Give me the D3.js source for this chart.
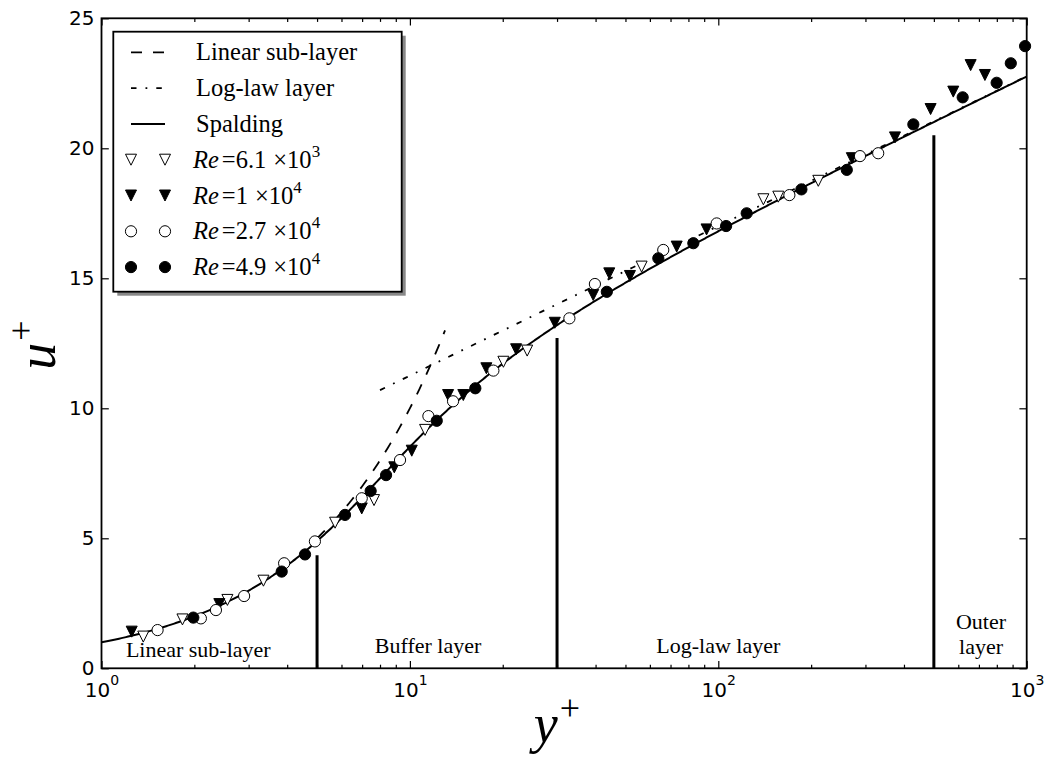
<!DOCTYPE html>
<html><head><meta charset="utf-8">
<script src="https://cdn.jsdelivr.net/npm/d3@7"></script>
<style>body{margin:0;background:#fff}</style>
</head><body><svg id="c" width="1048" height="761"></svg>
<script>
// ---------- data ----------
const xTicks = [1, 10, 100, 1000];
const xTickExp = ["0", "1", "2", "3"];
const yTicks = [0, 5, 10, 15, 20, 25];

const re61 = [[1.366,1.22],[1.83,1.88],[2.56,2.63],[3.35,3.37],[5.72,5.6],[7.65,6.47],[11.2,9.17],
  [20.1,11.79],[24.0,12.22],[56.4,15.45],[140,18.04],[156.5,18.14],[211,18.75]];
const re1 = [[1.253,1.41],[2.41,2.47],[6.98,6.15],[8.9,7.73],[10.14,8.37],[13.3,10.51],[14.9,10.51],
  [17.7,11.54],[22.1,12.27],[29.5,13.29],[39.3,14.36],[44.3,15.19],[51.7,15.09],[73.3,16.22],[91.6,16.88],
  [271,19.62],[374,20.42],[488,21.51],[578,22.18],[658,23.2],[732,22.82]];
const re27 = [[1.52,1.47],[2.10,1.92],[2.35,2.24],[2.90,2.78],[3.91,4.04],[4.92,4.88],[6.98,6.54],
  [9.29,8.01],[11.48,9.7],[13.8,10.27],[18.65,11.45],[32.9,13.46],[39.8,14.78],[66.3,16.09],[98.8,17.11],
  [170,18.2],[288,19.7],[330,19.81]];
const re49 = [[1.985,1.95],[3.84,3.72],[4.57,4.38],[6.16,5.9],[7.46,6.82],[8.37,7.43],[12.22,9.52],
  [16.3,10.77],[43.5,14.48],[63.9,15.77],[83,16.35],[106,17.01],[123.6,17.5],[186,18.42],[261,19.17],
  [429,20.92],[620,21.96],[799,22.52],[888,23.27],[988,23.93]];

const seriesLabels = [["6.1", "3"], ["1", "4"], ["2.7", "4"], ["4.9", "4"]];
const lineLabels = ["Linear sub-layer", "Log-law layer", "Spalding"];

// theory parameters
const kappa = 0.4, Bconst = 5.5;
const linearRange = [5, 13];
const logRange = [8, 1000];

// region boundaries (y+) and their heights (u+)
const boundaryX = [5, 30, 500];
const boundaryTop = [4.35, 12.7, 20.5];
const regionNames = [["Linear sub-layer"], ["Buffer layer"], ["Log-law layer"], ["Outer", "layer"]];
const regionAnchorX = [2.06, 11.45, 100, 711];

// ---------- layout ----------
const L = 101.5, R = 1026.7, T = 18.3, Bm = 668.3;
const svg = d3.select("#c");
const x = d3.scaleLog().domain([1, 1000]).range([L, R]);
const y = d3.scaleLinear().domain([0, 25]).range([Bm, T]);

const serif = "'Liberation Serif','Times New Roman',serif";
const sans = "'DejaVu Sans',sans-serif";

svg.append("defs").append("clipPath").attr("id", "pc")
  .append("rect").attr("x", L).attr("y", T).attr("width", R - L).attr("height", Bm - T);

const plot = svg.append("g").attr("clip-path", "url(#pc)");
const line = d3.line().x(d => x(d[0])).y(d => y(d[1]));

// Spalding curve (implicit law evaluated along u+)
const uSamp = d3.range(0, 24, 0.02);
const spalding = uSamp.map(u => {
  const k = kappa * u;
  const yp = u + Math.exp(-kappa * Bconst) * (Math.exp(k) - 1 - k - k * k / 2 - k * k * k / 6);
  return [yp, u];
}).filter(d => d[0] >= 0.9 && d[0] <= 1100);

const linPts = d3.range(0, 41).map(i => {
  const yp = linearRange[0] * Math.pow(linearRange[1] / linearRange[0], i / 40);
  return [yp, yp];
});
const logPts = d3.range(0, 101).map(i => {
  const yp = logRange[0] * Math.pow(logRange[1] / logRange[0], i / 100);
  return [yp, Math.log(yp) / kappa + Bconst];
});

plot.append("path").datum(linPts).attr("d", line).attr("fill", "none")
  .attr("stroke", "#000").attr("stroke-width", 1.8).attr("stroke-dasharray", "11,11");
plot.append("path").datum(logPts).attr("d", line).attr("fill", "none")
  .attr("stroke", "#000").attr("stroke-width", 1.8).attr("stroke-dasharray", "5.5,9,1.8,9");
plot.append("path").datum(spalding).attr("d", line).attr("fill", "none")
  .attr("stroke", "#000").attr("stroke-width", 2);

// region boundaries
plot.selectAll("line.bd").data(boundaryX).enter().append("line")
  .attr("x1", d => x(d)).attr("x2", d => x(d))
  .attr("y1", y(0)).attr("y2", (d, i) => y(boundaryTop[i]))
  .attr("stroke", "#000").attr("stroke-width", 3);

// markers
const triPath = "M0,5.5L-5.5,-5.5L5.5,-5.5Z";
function drawTri(g, data, fill) {
  g.selectAll(null).data(data).enter().append("path")
    .attr("d", triPath)
    .attr("transform", d => `translate(${x(d[0])},${y(d[1])})`)
    .attr("fill", fill).attr("stroke", "#000").attr("stroke-width", 1);
}
function drawCirc(g, data, fill) {
  g.selectAll(null).data(data).enter().append("circle")
    .attr("cx", d => x(d[0])).attr("cy", d => y(d[1])).attr("r", 5.6)
    .attr("fill", fill).attr("stroke", "#000").attr("stroke-width", 1);
}
const mk = svg.append("g");
drawTri(mk, re61, "#fff");
drawTri(mk, re1, "#000");
drawCirc(mk, re27, "#fff");
drawCirc(mk, re49, "#000");

// region labels
regionNames.forEach((lines, i) => {
  const t = svg.append("text").attr("text-anchor", "middle")
    .attr("font-family", serif).attr("font-size", 22).attr("fill", "#000");
  const base = lines.length === 1 ? (i === 0 ? 657 : 653) : 629;
  lines.forEach((s, j) => {
    t.append("tspan").attr("x", x(regionAnchorX[i])).attr("y", base + j * 25).text(s);
  });
});

// ---------- axes ----------
const minorX = [];
[1, 10, 100].forEach(d => { for (let k = 2; k <= 9; k++) minorX.push(d * k); });

function styleAxis(g) {
  g.select(".domain").remove();
  g.selectAll(".tick line").attr("stroke", "#000").attr("stroke-width", 1.2);
}
svg.append("g").attr("transform", `translate(0,${Bm})`)
  .call(d3.axisBottom(x).tickValues(minorX).tickSize(-3.6).tickFormat("")).call(styleAxis);
svg.append("g").attr("transform", `translate(0,${T})`)
  .call(d3.axisTop(x).tickValues(minorX).tickSize(-3.6).tickFormat("")).call(styleAxis);
svg.append("g").attr("transform", `translate(0,${T})`)
  .call(d3.axisTop(x).tickValues(xTicks).tickSize(-7.3).tickFormat("")).call(styleAxis);
svg.append("g").attr("transform", `translate(${R},0)`)
  .call(d3.axisRight(y).tickValues(yTicks).tickSize(-7.3).tickFormat("")).call(styleAxis);

const xb = svg.append("g").attr("transform", `translate(0,${Bm})`)
  .call(d3.axisBottom(x).tickValues(xTicks).tickSize(-7.3).tickFormat("")).call(styleAxis);
xb.selectAll(".tick").each(function (d, i) {
  const t = d3.select(this).append("text").attr("y", 29).attr("x", 0)
    .attr("text-anchor", "middle").attr("fill", "#000")
    .attr("font-family", sans).attr("font-size", 20);
  t.append("tspan").text("10");
  t.append("tspan").attr("dy", -12).attr("font-size", 14).text(xTickExp[i]);
});
const yl = svg.append("g").attr("transform", `translate(${L},0)`)
  .call(d3.axisLeft(y).tickValues(yTicks).tickSize(-7.3).tickPadding(7).tickFormat(d3.format("d"))).call(styleAxis);
yl.selectAll(".tick text").attr("font-family", sans).attr("font-size", 20).attr("fill", "#000");

// frame
svg.append("rect").attr("x", L).attr("y", T).attr("width", R - L).attr("height", Bm - T)
  .attr("fill", "none").attr("stroke", "#000").attr("stroke-width", 1.8);

// axis titles
const xt = svg.append("text").attr("x", 557).attr("y", 742).attr("text-anchor", "middle")
  .attr("font-family", serif).attr("font-style", "italic").attr("font-size", 54).attr("fill", "#000");
xt.append("tspan").text("y");
xt.append("tspan").attr("dy", -22).attr("dx", 2).attr("font-style", "normal").attr("font-size", 36).text("+");
const yt = svg.append("text").attr("transform", "translate(55,345) rotate(-90)").attr("text-anchor", "middle")
  .attr("font-family", serif).attr("font-style", "italic").attr("font-size", 54).attr("fill", "#000");
yt.append("tspan").text("u");
yt.append("tspan").attr("dy", -22).attr("dx", 2).attr("font-style", "normal").attr("font-size", 36).text("+");

// ---------- legend ----------
const lg = svg.append("g");
const lx = 113.3, ly = 31.7, lw = 288.4, lh = 260;
lg.append("rect").attr("x", lx + 4).attr("y", ly + 4).attr("width", lw).attr("height", lh).attr("fill", "#888");
lg.append("rect").attr("x", lx).attr("y", ly).attr("width", lw).attr("height", lh)
  .attr("fill", "#fff").attr("stroke", "#000").attr("stroke-width", 1.8);
const rowY = d3.range(7).map(i => 52.3 + i * 35.8);
const dashes = ["11,11", "5.5,9,1.8,9", null];
lineLabels.forEach((s, i) => {
  lg.append("line").attr("x1", 131).attr("x2", 165).attr("y1", rowY[i]).attr("y2", rowY[i])
    .attr("stroke", "#000").attr("stroke-width", i === 2 ? 2 : 1.8)
    .attr("stroke-dasharray", dashes[i]);
  lg.append("text").attr("x", 196).attr("y", rowY[i] + 8).attr("font-family", serif)
    .attr("font-size", 24.5).attr("fill", "#000").text(s);
});
const mkSpec = [["tri", "#fff"], ["tri", "#000"], ["circ", "#fff"], ["circ", "#000"]];
seriesLabels.forEach((lab, i) => {
  const yy = rowY[i + 3];
  [131, 165].forEach(xx => {
    if (mkSpec[i][0] === "tri")
      lg.append("path").attr("d", triPath).attr("transform", `translate(${xx},${yy})`)
        .attr("fill", mkSpec[i][1]).attr("stroke", "#000").attr("stroke-width", 1);
    else
      lg.append("circle").attr("cx", xx).attr("cy", yy).attr("r", 5.6)
        .attr("fill", mkSpec[i][1]).attr("stroke", "#000").attr("stroke-width", 1);
  });
  const t = lg.append("text").attr("x", 193).attr("y", yy + 8).attr("font-family", serif)
    .attr("font-size", 24.5).attr("fill", "#000");
  t.append("tspan").attr("font-style", "italic").text("Re");
  t.append("tspan").attr("dx", 3).text("=" + lab[0]);
  t.append("tspan").attr("dx", 7).text("\u00d710");
  t.append("tspan").attr("dy", -11).attr("font-size", 17).text(lab[1]);
});
</script>
</body></html>
